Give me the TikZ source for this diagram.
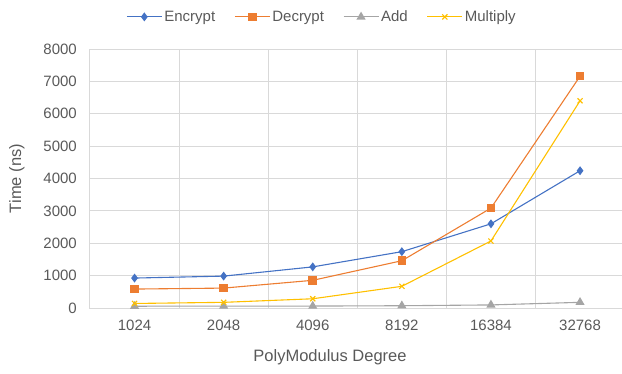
\documentclass[tikz,border=0pt]{standalone}
\usepackage{fontspec}
\setmainfont{Liberation Sans}
\usepackage{pgfplots}
\pgfplotsset{compat=1.18}

\definecolor{encblue}{HTML}{4472C4}
\definecolor{decorange}{HTML}{ED7D31}
\definecolor{addgray}{HTML}{A5A5A5}
\definecolor{mulgold}{HTML}{FFC000}
\definecolor{textgray}{HTML}{595959}
\definecolor{gridgray}{HTML}{D9D9D9}

\begin{document}
\begin{tikzpicture}[
  series/.style={line width=1.1pt, mark options={solid}},
  ticktext/.style={font=\fontsize{15}{18}\selectfont, text=textgray},
  titletext/.style={font=\fontsize{16.5}{19}\selectfont, text=textgray},
]
\useasboundingbox (0,0) rectangle (622pt,373pt);
\begin{axis}[
  at={(90pt,65pt)}, anchor=south west,
  scale only axis, width=534.6pt, height=259pt,
  xmin=0.5, xmax=6.5, ymin=0, ymax=8000,
  clip=false,
  axis line style={draw=gridgray, line width=1pt},
  tick style={draw=none},
  xtick={1,...,6},
  xticklabels={1024,2048,4096,8192,16384,32768},
  minor xtick={1.5,2.5,3.5,4.5,5.5},
  ytick={0,1000,...,8000},
  yticklabels={0,1000,2000,3000,4000,5000,6000,7000,8000},
  xminorgrids, ymajorgrids,
  grid style={draw=gridgray, line width=1pt},
  minor grid style={draw=gridgray, line width=1pt},
  x tick label style={ticktext, anchor=north, inner sep=0pt, yshift=-12pt},
  y tick label style={ticktext, anchor=east, inner sep=0pt, xshift=-13pt},
  xlabel={PolyModulus Degree},
  ylabel={Time (ns)},
  xlabel style={titletext, at={(axis description cs:0.449,-0.192)}, anchor=center},
  ylabel style={titletext, at={(axis description cs:-0.137,0.5)}, anchor=center},
  legend columns=4,
  legend style={draw=none, fill=none, ticktext,
                at={(axis description cs:0.434,1.124)}, anchor=center,
                /tikz/every even column/.append style={column sep=17pt}},
  legend image code/.code={
    \draw[mark repeat=2, mark phase=2]
      plot coordinates {(0pt,0pt) (17.5pt,0pt) (35pt,0pt)};},
]
% Encrypt
\addplot[series, encblue, mark=diamond*, mark size=3.6pt]
  coordinates {(1,925) (2,985) (3,1270) (4,1740) (5,2600) (6,4240)};
\addlegendentry{Encrypt}
% Decrypt
\addplot[series, decorange, mark=square*, mark size=3.7pt]
  coordinates {(1,585) (2,615) (3,855) (4,1460) (5,3085) (6,7160)};
\addlegendentry{Decrypt}
% Add
\addplot[series, addgray, mark=triangle*, mark size=4.2pt]
  coordinates {(1,55) (2,60) (3,60) (4,70) (5,95) (6,175)};
\addlegendentry{Add}
% Multiply
\addplot[series, mulgold, mark=x, mark size=3.6pt]
  coordinates {(1,140) (2,175) (3,285) (4,670) (5,2070) (6,6400)};
\addlegendentry{Multiply}
\end{axis}
\end{tikzpicture}
\end{document}
